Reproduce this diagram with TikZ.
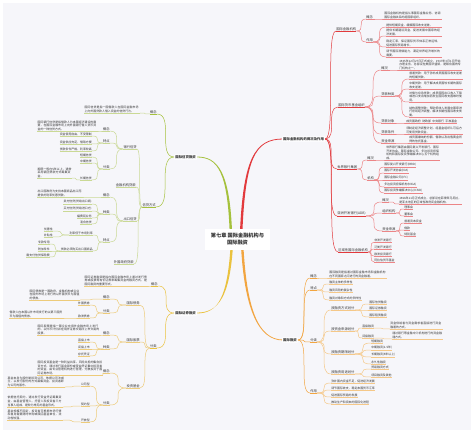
\documentclass[tikz,border=0pt]{standalone}
\usepackage{fontspec}
\setmainfont{Noto Sans CJK SC}
\XeTeXlinebreaklocale "zh"
\XeTeXlinebreakskip=0pt plus 0.5pt
\definecolor{bgc}{HTML}{F6F6FA}
\definecolor{txt}{HTML}{333333}
\definecolor{rmain}{HTML}{E23A3D}
\definecolor{rsub}{HTML}{EC8587}
\definecolor{omain}{HTML}{F2A540}
\definecolor{osub}{HTML}{F5C888}
\definecolor{gmain}{HTML}{A5C13C}
\definecolor{gsub}{HTML}{CAD995}
\definecolor{ymain}{HTML}{EAC23E}
\definecolor{ysub}{HTML}{EDCB7A}
\colorlet{bc}{rsub}
\tikzset{
 lbl/.style={inner xsep=0.3pt,inner ysep=0.5pt,outer sep=0pt,text=txt,font=\fontsize{3.3}{4}\selectfont},
 lf/.style={lbl,font=\fontsize{2.9}{3.6}\selectfont,align=left},
 mbox/.style={fill=white,rounded corners=0.8pt,inner xsep=1.2pt,inner ysep=1.1pt,outer sep=0pt,text=txt,font=\fontsize{3.4}{4}\selectfont\bfseries},
 cn/.style={draw=bc,line width=0.5pt},
}
\newcommand\rnd[5][lbl]{%
  \node[#1,anchor=south west] (#2) at #4 {#5};%
  \draw[cn] (#2.south west) -- (#2.south east);%
  \draw[cn] (#3) .. controls (#2.south west |- #3) and (#3 |- #2.south west) .. (#2.south west);%
}
\newcommand\lnd[5][lbl]{%
  \node[#1,anchor=south east] (#2) at #4 {#5};%
  \draw[cn] (#2.south west) -- (#2.south east);%
  \draw[cn] (#3) .. controls (#2.south east |- #3) and (#3 |- #2.south east) .. (#2.south east);%
}
\begin{document}
\begin{tikzpicture}[x=1pt,y=-1pt]
\useasboundingbox (0,0) rectangle (474,433);
\fill[white] (0,0) rectangle (474,433);
\fill[bgc] (3,3) rectangle (471,430);

% main tapered branches
\fill[rmain] (239.8,236) .. controls (242.8,158) and (255,138.6) .. (283,138.6) -- (283,139.4) .. controls (255,139.4) and (245.2,158) .. (242.2,236) -- cycle;
\fill[gmain] (229.8,236) .. controls (227.8,172) and (218,157.4) .. (197,157.4) -- (197,156.6) .. controls (218,156.6) and (230.2,172) .. (232.2,236) -- cycle;
\fill[ymain] (230.8,242) .. controls (227.8,298) and (218,313.4) .. (197,313.4) -- (197,312.6) .. controls (218,312.6) and (230.2,298) .. (233.2,242) -- cycle;
\fill[omain] (240.8,242) .. controls (243.8,308) and (258,340.4) .. (283,340.4) -- (283,339.6) .. controls (258,339.6) and (246.2,308) .. (243.2,242) -- cycle;

\node[fill=white,minimum width=65pt,minimum height=21pt,inner sep=0pt,text=txt,align=center,font=\fontsize{5.2}{6.6}\selectfont\bfseries] (C) at (237.5,239) {第七章 国际金融机构与\\国际融资};

% ===== RED =====
\colorlet{bc}{rmain}
\node[mbox,anchor=west] (R0) at (282,139) {国际金融机构的概况及作用};
\coordinate (rj) at (R0.east);
\rnd{R1}{rj}{(336,31)}{国际金融机构}
\rnd{R2}{rj}{(338,107)}{国际货币基金组织}
\rnd{R3}{rj}{(337,169)}{世界银行集团}
\rnd{R4}{rj}{(337,216)}{亚洲开发银行(ADB)}
\rnd{R5}{rj}{(338,252)}{区域性国际金融机构}
\colorlet{bc}{rsub}
\rnd{R11}{R1.south east}{(366,19)}{概念}
\rnd{R12}{R1.south east}{(366,42)}{作用}
\rnd[lf,text width=57pt]{R111}{R11.south east}{(384,19)}{国际金融机构是指从事国际金融业务、协调国际金融关系的超国家组织。}
\rnd[lf,text width=55pt]{R121}{R12.south east}{(386,27)}{提供短期资金，缓解国际收支逆差。}
\rnd[lf,text width=55pt]{R122}{R12.south east}{(386,36)}{提供长期建设资金，促进发展中国家的经济发展。}
\rnd[lf,text width=55pt]{R123}{R12.south east}{(386,47)}{稳定汇率，保证国际货币体系正常运转，促进国际贸易增长。}
\rnd[lf,text width=55pt]{R124}{R12.south east}{(386,57)}{调节国际清偿能力，满足世界经济增长的需要。}
\rnd{R21}{R2.south east}{(381,70)}{概况}
\rnd{R22}{R2.south east}{(381,96)}{贷款种类}
\rnd{R23}{R2.south east}{(381,123)}{贷款对象}
\rnd{R24}{R2.south east}{(381,134)}{贷款条件}
\rnd{R25}{R2.south east}{(381,143)}{资金来源}
\rnd[lf,text width=62pt]{R211}{R21.south east}{(399,70)}{1945年12月27日正式成立，1947年3月1日开始办理业务，总部设在美国华盛顿，是联合国的专门机构之一。}
\rnd[lf,text width=53pt]{R221}{R22.south east}{(409,79)}{普通贷款：用于弥补成员国国际收支逆差的短期贷款。}
\rnd[lf,text width=53pt]{R222}{R22.south east}{(409,89)}{中期贷款：用于解决成员国较长期的国际收支逆差。}
\rnd[lf,text width=53pt]{R223}{R22.south east}{(409,102)}{补偿与应急贷款：成员国因出口收入下降或进口支出增加而发生国际收支困难时使用。}
\rnd[lf,text width=53pt]{R224}{R22.south east}{(409,117)}{结构调整贷款：帮助低收入发展中国家进行宏观经济调整，解决长期性国际收支失衡。}
\rnd[lf]{R231}{R23.south east}{(406,123)}{成员国政府\enspace 财政部\enspace 中央银行\enspace 平准基金}
\rnd[lf,text width=56pt]{R241}{R24.south east}{(406,134)}{须制定经济调整计划，经基金组织认可后方可使用贷款资金。}
\rnd[lf,text width=53pt]{R251}{R25.south east}{(409,143)}{成员国缴纳的份额、借款以及出售黄金所得的信托基金。}
\rnd{R31}{R3.south east}{(367,160)}{概况}
\rnd{R32}{R3.south east}{(367,180)}{机构}
\rnd[lf,text width=53pt]{R311}{R31.south east}{(386,160)}{世界银行集团由国际复兴开发银行、国际开发协会、国际金融公司、多边投资担保机构和国际投资争端解决中心五个机构组成。}
\rnd[lf]{R321}{R32.south east}{(384,167)}{国际复兴开发银行(IBRD)}
\rnd[lf]{R322}{R32.south east}{(384,173)}{国际开发协会(IDA)}
\rnd[lf]{R323}{R32.south east}{(384,180)}{国际金融公司(IFC)}
\rnd[lf]{R324}{R32.south east}{(384,187)}{多边投资担保机构(MIGA)}
\rnd[lf]{R325}{R32.south east}{(384,193)}{国际投资争端解决中心(ICSID)}
\rnd{R41}{R4.south east}{(382,202)}{概况}
\rnd{R42}{R4.south east}{(382,213)}{组织机构}
\rnd{R43}{R4.south east}{(382,231)}{资金来源}
\rnd[lf,text width=62pt]{R411}{R41.south east}{(399,204)}{1966年11月正式成立，总部设在菲律宾马尼拉，是亚太地区的区域性政府间金融机构。}
\rnd[lf]{R421}{R42.south east}{(404,209)}{理事会}
\rnd[lf]{R422}{R42.south east}{(404,216)}{董事会}
\rnd[lf]{R431}{R43.south east}{(404,223)}{普通资本资金}
\rnd[lf]{R432}{R43.south east}{(404,230)}{借款}
\rnd[lf]{R433}{R43.south east}{(404,236)}{特别基金}
\rnd[lf]{R51}{R5.south east}{(374,242)}{非洲开发银行}
\rnd[lf]{R52}{R5.south east}{(374,249)}{泛美开发银行}
\rnd[lf]{R53}{R5.south east}{(374,256)}{欧洲投资银行}
\rnd[lf]{R54}{R5.south east}{(374,262)}{阿拉伯货币基金}

% ===== ORANGE =====
\colorlet{bc}{omain}
\node[mbox,anchor=west] (O0) at (282,340) {国际融资};
\coordinate (oj) at (O0.east);
\rnd{O1}{oj}{(310,278)}{概念}
\rnd{O2}{oj}{(310,290)}{特点}
\rnd{O3}{oj}{(310,342)}{分类}
\rnd{O4}{oj}{(310,393)}{作用}
\colorlet{bc}{osub}
\rnd[lf,text width=57pt]{O11}{O1.south east}{(329,278)}{国际融资是指通过国际金融市场和金融机构在不同国家之间进行的资金融通。}
\rnd[lf]{O21}{O2.south east}{(329,284)}{融资主体的多样性}
\rnd[lf]{O22}{O2.south east}{(329,292)}{融资风险的复杂性}
\rnd[lf]{O23}{O2.south east}{(329,300)}{融资对象和方式的多样性}
\rnd{O31}{O3.south east}{(331,310)}{按融资方式划分}
\rnd{O32}{O3.south east}{(331,331)}{按资金来源划分}
\rnd{O33}{O3.south east}{(331,354)}{按融资期限划分}
\rnd{O34}{O3.south east}{(331,374)}{按融资用途划分}
\rnd[lf]{O311}{O31.south east}{(369,304)}{国际信贷融资}
\rnd[lf]{O312}{O31.south east}{(369,310)}{国际证券融资}
\rnd[lf]{O313}{O31.south east}{(369,317)}{国际租赁融资}
\rnd[lf]{O321}{O32.south east}{(362,328)}{直接融资}
\rnd[lf]{O322}{O32.south east}{(362,338)}{间接融资}
\rnd[lf,text width=52pt]{O3211}{O321.south east}{(390,329)}{资金供给者与资金需求者直接进行资金融通的方式。}
\rnd[lf,text width=50pt]{O3221}{O322.south east}{(392,339)}{通过银行等金融中介机构进行的资金融通方式。}
\rnd[lf]{O331}{O33.south east}{(371,343)}{短期融资}
\rnd[lf]{O332}{O33.south east}{(371,350)}{中期融资(1-5年)}
\rnd[lf]{O333}{O33.south east}{(371,357)}{长期融资(5年以上)}
\rnd[lf]{O334}{O33.south east}{(371,364)}{永久性融资}
\rnd[lf]{O341}{O34.south east}{(371,369)}{贸易融资方式}
\rnd[lf]{O342}{O34.south east}{(371,377)}{项目融资及其他}
\rnd[lf]{O41}{O4.south east}{(331,383)}{弥补国内资金不足，促进经济发展}
\rnd[lf]{O42}{O4.south east}{(331,390)}{调节国际收支，稳定本国货币汇率}
\rnd[lf]{O43}{O4.south east}{(331,397)}{促进国际贸易的发展}
\rnd[lf]{O44}{O4.south east}{(331,404)}{推动生产和资本的国际化进程}

% ===== GREEN =====
\colorlet{bc}{gmain}
\node[mbox,anchor=east] (G0) at (197,157) {国际信贷融资};
\coordinate (gj) at (G0.west);
\lnd{G1}{gj}{(157,114)}{概念}
\lnd{G2}{gj}{(156,207)}{信贷方式}
\colorlet{bc}{gsub}
\lnd[lf,text width=55pt]{G11}{G1.south west}{(140,113)}{国际信贷是指一国借款人在国际金融市场上向外国贷款人借入资金的信贷行为。}
\lnd{G21}{G2.south west}{(137,149)}{银行信贷}
\lnd{G22}{G2.south west}{(136,187)}{金融机构贷款}
\lnd{G23}{G2.south west}{(137,221)}{出口信贷}
\lnd{G24}{G2.south west}{(134,264)}{外国政府贷款}
\lnd{G211}{G21.south west}{(110,131)}{概念}
\lnd{G212}{G21.south west}{(110,143)}{特点}
\lnd{G213}{G21.south west}{(110,169)}{分类}
\lnd[lf,text width=59pt]{G2111}{G211.south west}{(97,131)}{国际银行信贷是指借款人为本国经济建设的需要，在国际金融市场上向外国银行借入货币资金的一种信贷方式。}
\lnd[lf]{G2121}{G212.south west}{(92,136)}{资金使用自由，不受限制}
\lnd[lf]{G2122}{G212.south west}{(92,144)}{资金供应充足，借取方便}
\lnd[lf]{G2123}{G212.south west}{(92,151)}{贷款条件严格，利率较高}
\lnd[lf]{G2131}{G213.south west}{(92,157)}{短期信贷}
\lnd[lf]{G2132}{G213.south west}{(92,163)}{中期信贷}
\lnd[lf]{G2133}{G213.south west}{(92,180)}{长期信贷}
\lnd[lf,text width=34pt]{G21331}{G2133.south west}{(72,178)}{期限一般在5年以上，通常采用银团贷款方式筹集资金。}
\lnd{G231}{G23.south west}{(110,197)}{概念}
\lnd{G232}{G23.south west}{(110,214)}{种类}
\lnd{G233}{G23.south west}{(110,242)}{特点}
\lnd[lf,text width=44pt]{G2311}{G231.south west}{(82,197)}{出口国政府为支持本国商品出口而提供的利率优惠贷款。}
\lnd[lf]{G2321}{G232.south west}{(92,204)}{卖方信贷(贷给出口商)}
\lnd[lf]{G2322}{G232.south west}{(92,211)}{买方信贷(贷给进口方)}
\lnd[lf]{G2323}{G232.south west}{(92,218)}{福费廷业务}
\lnd[lf]{G2324}{G232.south west}{(92,224)}{混合信贷}
\lnd[lf]{G2331}{G233.south west}{(93,235)}{利率低于市场利率}
\lnd[lf]{G2332}{G233.south west}{(93,251)}{贷款必须购买出口国商品}
\lnd[lf]{G23311}{G2331.south west}{(53,231)}{优惠性}
\lnd[lf]{G23312}{G2331.south west}{(53,237)}{补贴性}
\lnd[lf]{G23321}{G2332.south west}{(50,244)}{专款专用}
\lnd[lf]{G23322}{G2332.south west}{(50,251)}{附加条件}
\lnd[lf]{G23323}{G2332.south west}{(50,257)}{需支付信贷保险费}

% ===== YELLOW =====
\colorlet{bc}{ymain}
\node[mbox,anchor=east] (Y0) at (197,313) {国际证券融资};
\coordinate (yj) at (Y0.west);
\lnd{Y1}{yj}{(158,286)}{概念}
\lnd{Y2}{yj}{(157,348)}{分类}
\colorlet{bc}{ysub}
\lnd[lf,text width=63pt]{Y11}{Y1.south west}{(148,286)}{国际证券融资是指在国际金融市场上通过发行债券或股票等有价证券来筹集资金的融资方式，是国际融资的重要形式。}
\lnd{Y21}{Y2.south west}{(140,305)}{国际债券}
\lnd{Y22}{Y2.south west}{(140,342)}{国际股票}
\lnd{Y23}{Y2.south west}{(140,388)}{投资基金}
\lnd{Y211}{Y21.south west}{(110,299)}{概念}
\lnd{Y212}{Y21.south west}{(110,313)}{分类}
\lnd[lf,text width=50pt]{Y2111}{Y211.south west}{(80,300)}{国际债券是一国政府、金融机构或企业在国外市场上发行的以外国货币为面值的债券。}
\lnd[lf]{Y2121}{Y212.south west}{(90,305)}{外国债券}
\lnd[lf]{Y2122}{Y212.south west}{(90,318)}{欧洲债券}
\lnd[lf,text width=53pt]{Y21221}{Y2122.south west}{(63,318)}{借款人在本国以外市场发行的以第三国货币为面值的债券。}
\lnd{Y221}{Y22.south west}{(110,335)}{概念}
\lnd{Y222}{Y22.south west}{(110,349)}{种类}
\lnd[lf,text width=62pt]{Y2211}{Y221.south west}{(100,335)}{国际股票是指一国企业在境外金融市场上发行的、以外币计价并在境外证券交易所上市交易的股票。}
\lnd[lf]{Y2221}{Y222.south west}{(90,342)}{直接上市}
\lnd[lf]{Y2222}{Y222.south west}{(90,349)}{间接上市}
\lnd[lf]{Y2223}{Y222.south west}{(90,356)}{存托凭证}
\lnd{Y231}{Y23.south west}{(110,373)}{概念}
\lnd{Y232}{Y23.south west}{(110,405)}{分类}
\lnd[lf,text width=65pt]{Y2311}{Y231.south west}{(103,375)}{国际投资基金是一种利益共享、风险共担的集合投资方式，通过发行基金股份或受益凭证集中投资者的资金，由专业管理机构进行管理，分散投资于国际证券市场。}
\lnd[lf]{Y2321}{Y232.south west}{(90,386)}{公司型}
\lnd[lf]{Y2322}{Y232.south west}{(90,406)}{契约型}
\lnd[lf]{Y2323}{Y232.south west}{(90,422)}{开放型}
\lnd[lf,text width=57pt]{Y23211}{Y2321.south west}{(65,387)}{基金本身为股份制投资公司，依据公司法成立，以发行股份的方式募集资金，投资者即为公司的股东。}
\lnd[lf,text width=55pt]{Y23221}{Y2322.south west}{(63,407)}{依据信托契约，通过发行受益凭证筹集资金，由基金管理人、托管人和投资者三方当事人组成，是较为常见的基金形式。}
\lnd[lf,text width=55pt]{Y23231}{Y2323.south west}{(63,420)}{基金规模不固定，投资者可根据市场行情和自身需要随时申购或赎回基金单位，流动性较强。}
\end{tikzpicture}
\end{document}
